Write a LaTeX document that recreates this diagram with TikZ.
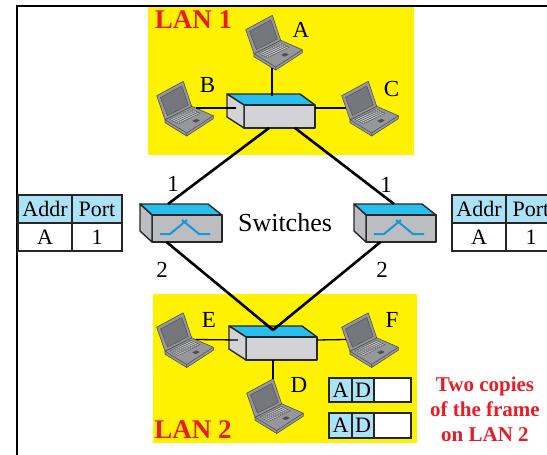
\documentclass[tikz,border=0pt]{standalone}
\usepackage{fontspec}
\setmainfont{Liberation Serif}
\usepackage{xcolor}
\usetikzlibrary{positioning}

\definecolor{lanyellow}{RGB}{255,242,0}
\definecolor{lanred}{RGB}{232,28,36}
\definecolor{hubtop}{RGB}{40,190,238}
\definecolor{hubgrey}{RGB}{210,211,214}
\definecolor{swgrey}{RGB}{188,189,193}
\definecolor{swsym}{RGB}{25,150,215}
\definecolor{headblue}{RGB}{172,226,246}
\definecolor{lapbody}{RGB}{150,151,154}
\definecolor{lapscreen}{RGB}{118,119,124}
\definecolor{lapkeys}{RGB}{196,197,200}
\definecolor{lapedge}{RGB}{80,80,84}

\tikzset{
  trunk/.style={line width=2.6pt, black},
  drop/.style={line width=1.3pt, black},
  boxline/.style={draw=black!85, line width=1.4pt, line join=round},
  letter/.style={font=\fontsize{23}{23}\selectfont, inner sep=0pt},
  lanname/.style={font=\fontsize{27}{27}\selectfont\bfseries, text=lanred, inner sep=0pt},
  cell/.style={draw=black!85, line width=1.2pt, inner sep=0pt, font=\fontsize{22}{22}\selectfont},
  hcell/.style={cell, fill=headblue},
  % a small notebook, lid at the back, keyboard towards the viewer
  pics/laptop/.style={code={
    \coordinate (-east) at (10.6,1);
    \coordinate (-west) at (-24,1);
    \coordinate (-north) at (-2,-25.5);
    \coordinate (-south) at (-2,26.7);
    \filldraw[draw=lapedge, fill=lapbody, line width=0.6pt, line join=round]
      (-20,12.7) -- (6.7,-0.7) -- (28.3,8.7) -- (28.3,11.7) -- (1.7,29) -- (-20,15.7) -- cycle;
    \draw[lapedge, line width=0.6pt] (-20,12.7) -- (1.7,26) -- (28.3,8.7) (1.7,26) -- (1.7,29);
    \filldraw[draw=lapedge, fill=lapkeys, line width=0.4pt]
      (-15.2,12.5) -- (6.2,1.8) -- (14.9,6.3) -- (-6.5,17) -- cycle;
    \foreach \kr in {0.25,0.5,0.75}
      \draw[lapedge, line width=0.3pt] ({-15.2+\kr*8.7},{12.5+\kr*4.5}) -- ++(21.4,-10.7);
    \foreach \kc in {0.1,0.2,...,0.9}
      \draw[lapedge, line width=0.3pt] ({-15.2+\kc*21.4},{12.5-\kc*10.7}) -- ++(8.7,4.5);
    \filldraw[fill=lapedge, draw=lapedge, line width=0.3pt]
      (7.6,13.9) -- (11.4,12) -- (14.4,13.6) -- (10.6,15.5) -- cycle;
    \filldraw[draw=lapedge, fill=lapbody, line width=0.6pt, line join=round]
      (-28.3,-11.3) -- (-1.7,-25.7) -- (6.7,-0.7) -- (-20,12.7) -- cycle;
    \filldraw[draw=lapedge, fill=lapscreen, line width=0.5pt]
      (-24.5,-9.5) -- (-3.2,-21) -- (3.3,-2) -- (-17.5,8.6) -- cycle;
  }},
  % hub box, origin at top left corner of the front face
  pics/hub/.style={code={
    \filldraw[boxline, fill=hubtop] (-17,-11) -- (56,-11) -- (71,0) -- (0,0) -- cycle;
    \filldraw[boxline, fill=hubgrey] (0,0) rectangle (71,23);
    \filldraw[boxline, fill=hubgrey] (-17,-11) -- (0,0) -- (0,23) -- (-17,12) -- cycle;
    \coordinate (-n) at (28,-9);
    \coordinate (-w) at (-8,3);
    \coordinate (-e) at (71,3);
    \coordinate (-sw) at (25,23);
    \coordinate (-se) at (51,23);
    \coordinate (-s) at (27,23);
    \coordinate (-v) at (27,-7);
  }},
  % bridge box, #1 = where the upper link meets the lid
  pics/switch/.style={code={
    \filldraw[boxline, fill=hubtop] (-12,-11) -- (56,-11) -- (70,0) -- (0,0) -- cycle;
    \filldraw[boxline, fill=swgrey] (0,0) rectangle (70,27);
    \filldraw[boxline, fill=swgrey] (-12,-11) -- (0,0) -- (0,27) -- (-12,16) -- cycle;
    \draw[swsym, line width=2pt, line join=round] (8,19) -- (18,19) -- (35,5);
    \draw[swsym, line width=2pt, line join=round] (58,19) -- (47,19) -- (30,5);
    \coordinate (-top) at (#1,-11);
    \coordinate (-bot) at (14.5,27);
  }}
}

\begin{document}
\begin{tikzpicture}[x=1pt, y=-1pt]
\useasboundingbox (0,0) rectangle (547,455);
\clip (0,0) rectangle (547,455);

% the two LANs
\fill[lanyellow] (148,6.5) rectangle (414,154.5);
\fill[lanyellow] (153,294) rectangle (417,443);
\draw[line width=2pt] (17,456) -- (17,5.5) -- (548,5.5);

\pic (hub1) at (244,105) {hub};
\pic (hub2) at (246,337) {hub};
\pic (sw1) at (152,215) {switch=16};
\pic (sw2) at (366,215) {switch=28};

% links between the hubs and the bridges
\draw[trunk] (hub1-sw) -- (sw1-top);
\draw[trunk] (hub1-se) -- (sw2-top);
\draw[trunk] (sw1-bot) -- (hub2-v);
\draw[trunk] (sw2-bot) -- (hub2-v);

% stations
\pic (lapA) at (274,41) {laptop};
\pic (lapB) at (185,107) {laptop};
\pic (lapC) at (370,107) {laptop};
\pic (lapE) at (185,338.5) {laptop};
\pic (lapF) at (370,338.5) {laptop};
\pic (lapD) at (275,404.5) {laptop};

\draw[drop] (lapA-south) -- (hub1-n);
\draw[drop] (lapB-east) -- (hub1-w);
\draw[drop] (hub1-e) -- (lapC-west);
\draw[drop] (lapE-east) -- (hub2-w);
\draw[drop] (hub2-e) -- (lapF-west);
\draw[drop] (hub2-s) -- (lapD-north);

\node[letter] (labA) at (301,29.5) {A};
\node[letter] (labB) at (207.5,85) {B};
\node[letter] (labC) at (391.5,88.5) {C};
\node[letter] (labE) at (209,320) {E};
\node[letter] (labF) at (392,320) {F};
\node[letter] (labD) at (299,385) {D};

\node[lanname] (lan1) at (193.5,19.5) {LAN 1};
\node[lanname] (lan2) at (193,430) {LAN 2};

% port numbers
\node[letter] (p11) at (173,184) {1};
\node[letter] (p12) at (162,270) {2};
\node[letter] (p21) at (386,185) {1};
\node[letter] (p22) at (382,270) {2};

\node[font=\fontsize{26}{26}\selectfont, inner sep=0pt] (swname) at (285,222.5) {Switches};

% forwarding tables
\node[hcell, minimum width=54pt, minimum height=28pt] (t1addr) at (45,209) {Addr};
\node[hcell, minimum width=50pt, minimum height=28pt] (t1port) at (97,209) {Port};
\node[cell, minimum width=54pt, minimum height=28pt] (t1a) at (45,237) {A};
\node[cell, minimum width=50pt, minimum height=28pt] (t1p) at (97,237) {1};

\node[hcell, minimum width=54pt, minimum height=28pt] (t2addr) at (479,209) {Addr};
\node[hcell, minimum width=50pt, minimum height=28pt] (t2port) at (531,209) {Port};
\node[cell, minimum width=54pt, minimum height=28pt] (t2a) at (479,237) {A};
\node[cell, minimum width=50pt, minimum height=28pt] (t2p) at (531,237) {1};

% the two frames seen on LAN 2
\node[hcell, minimum width=23pt, minimum height=24pt] (fa1) at (340.5,390) {A};
\node[hcell, minimum width=22pt, minimum height=24pt] (fd1) at (363,390) {D};
\node[cell, fill=white, minimum width=37pt, minimum height=24pt] (fx1) at (392.5,390) {};
\node[hcell, minimum width=23pt, minimum height=25pt] (fa2) at (340.5,425.5) {A};
\node[hcell, minimum width=22pt, minimum height=25pt] (fd2) at (363,425.5) {D};
\node[cell, fill=white, minimum width=37pt, minimum height=25pt] (fx2) at (392.5,425.5) {};

\node[font=\fontsize{21}{25}\selectfont\bfseries, text=lanred, align=center, inner sep=0pt]
  (copies) at (485,409) {Two copies\\of the frame\\on LAN 2};
\end{tikzpicture}
\end{document}
